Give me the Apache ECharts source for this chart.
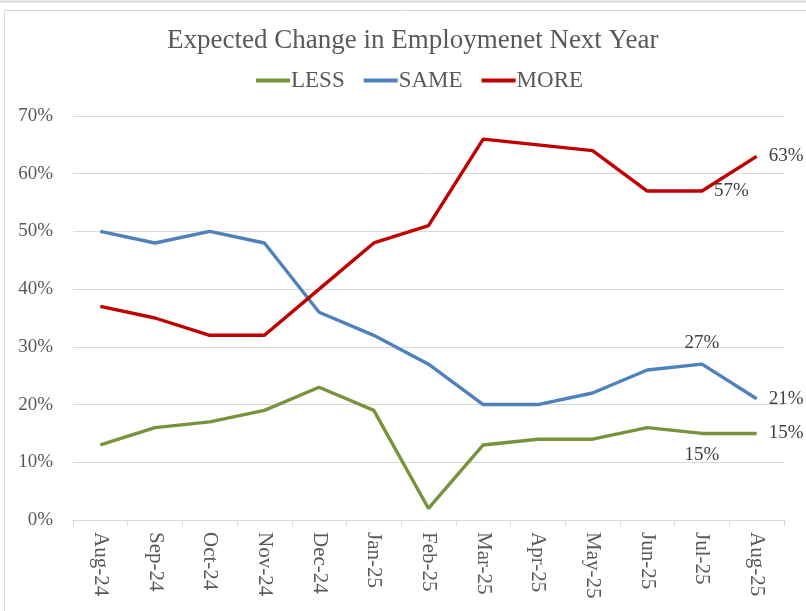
<!DOCTYPE html>
<html><head><meta charset="utf-8">
<script src="https://cdn.jsdelivr.net/npm/echarts@6/dist/echarts.min.js"></script>
<style>html,body{margin:0;padding:0;background:#fff}#c{width:806px;height:611px}</style>
</head><body><div id="c"></div>
<script>
const categories = ['Aug-24','Sep-24','Oct-24','Nov-24','Dec-24','Jan-25','Feb-25','Mar-25','Apr-25','May-25','Jun-25','Jul-25','Aug-25'];
const lessValues = [13,16,17,19,23,19,2,13,14,14,16,15,15];
const sameValues = [50,48,50,48,36,32,27,20,20,22,26,27,21];
const moreValues = [37,35,32,32,40,48,51,66,65,64,57,57,63];
const yTicks = [0,10,20,30,40,50,60,70];
// labelled points: index -> position
const lessLabels = {11:'bottom',12:'right'};
const sameLabels = {11:'top',12:'right'};
const moreLabels = {11:'right',12:'right'};

const FONT = '"Liberation Serif","DejaVu Serif",serif';
function mk(vals, labs){
  return vals.map((v,i)=> labs[i] ? {value:v, label:{show:true, position:labs[i], formatter:'{c}%', distance:12}} : v);
}
const chart = echarts.init(document.getElementById('c'));
const lbl = {fontFamily:FONT, fontSize:19, color:'#404040'};
chart.setOption({
  animation:false,
  title:{text:'Expected Change in Employmenet Next Year', left:162, top:22,
    textStyle:{fontFamily:FONT, fontSize:27, fontWeight:'normal', color:'#595959'}},
  legend:{top:64, left:251, itemWidth:34, itemHeight:4, itemGap:19,
    icon:'rect',
    textStyle:{fontFamily:FONT, fontSize:23, color:'#595959', padding:[0,0,0,-4]},
    data:['LESS','SAME','MORE']},
  grid:{left:73, right:22, top:116, bottom:91, containLabel:false},
  xAxis:{type:'category', data:categories, boundaryGap:true,
    axisLine:{lineStyle:{color:'#d9d9d9', width:1}},
    axisTick:{show:true, length:6, lineStyle:{color:'#d9d9d9'}},
    axisLabel:{rotate:-90, fontFamily:FONT, fontSize:21, color:'#595959', margin:12, interval:0}},
  yAxis:{type:'value', min:0, max:70, interval:10,
    axisLine:{show:false}, axisTick:{show:false},
    splitLine:{lineStyle:{color:'#d9d9d9', width:1}},
    axisLabel:{fontFamily:FONT, fontSize:19, color:'#595959', margin:20, formatter: v => yTicks.includes(v) ? v+'%' : ''}},
  series:[
    {name:'LESS', type:'line', data:mk(lessValues,lessLabels), symbol:'circle', symbolSize:0, lineStyle:{width:3.4, color:'#77933c'}, itemStyle:{color:'#77933c'}, label:lbl},
    {name:'SAME', type:'line', data:mk(sameValues,sameLabels), symbol:'circle', symbolSize:0, lineStyle:{width:3.4, color:'#4f81bd'}, itemStyle:{color:'#4f81bd'}, label:lbl},
    {name:'MORE', type:'line', data:mk(moreValues,moreLabels), symbol:'circle', symbolSize:0, lineStyle:{width:3.4, color:'#c00000'}, itemStyle:{color:'#c00000'}, label:lbl}
  ],
  graphic:[
    {type:'line', shape:{x1:0,y1:1.5,x2:806,y2:1.5}, style:{stroke:'#d9d9d9', lineWidth:2}, silent:true},
    {type:'rect', shape:{x:4.5,y:10.5,width:820,height:620}, style:{fill:'none', stroke:'#d9d9d9', lineWidth:1}, silent:true}
  ]
});
</script></body></html>
